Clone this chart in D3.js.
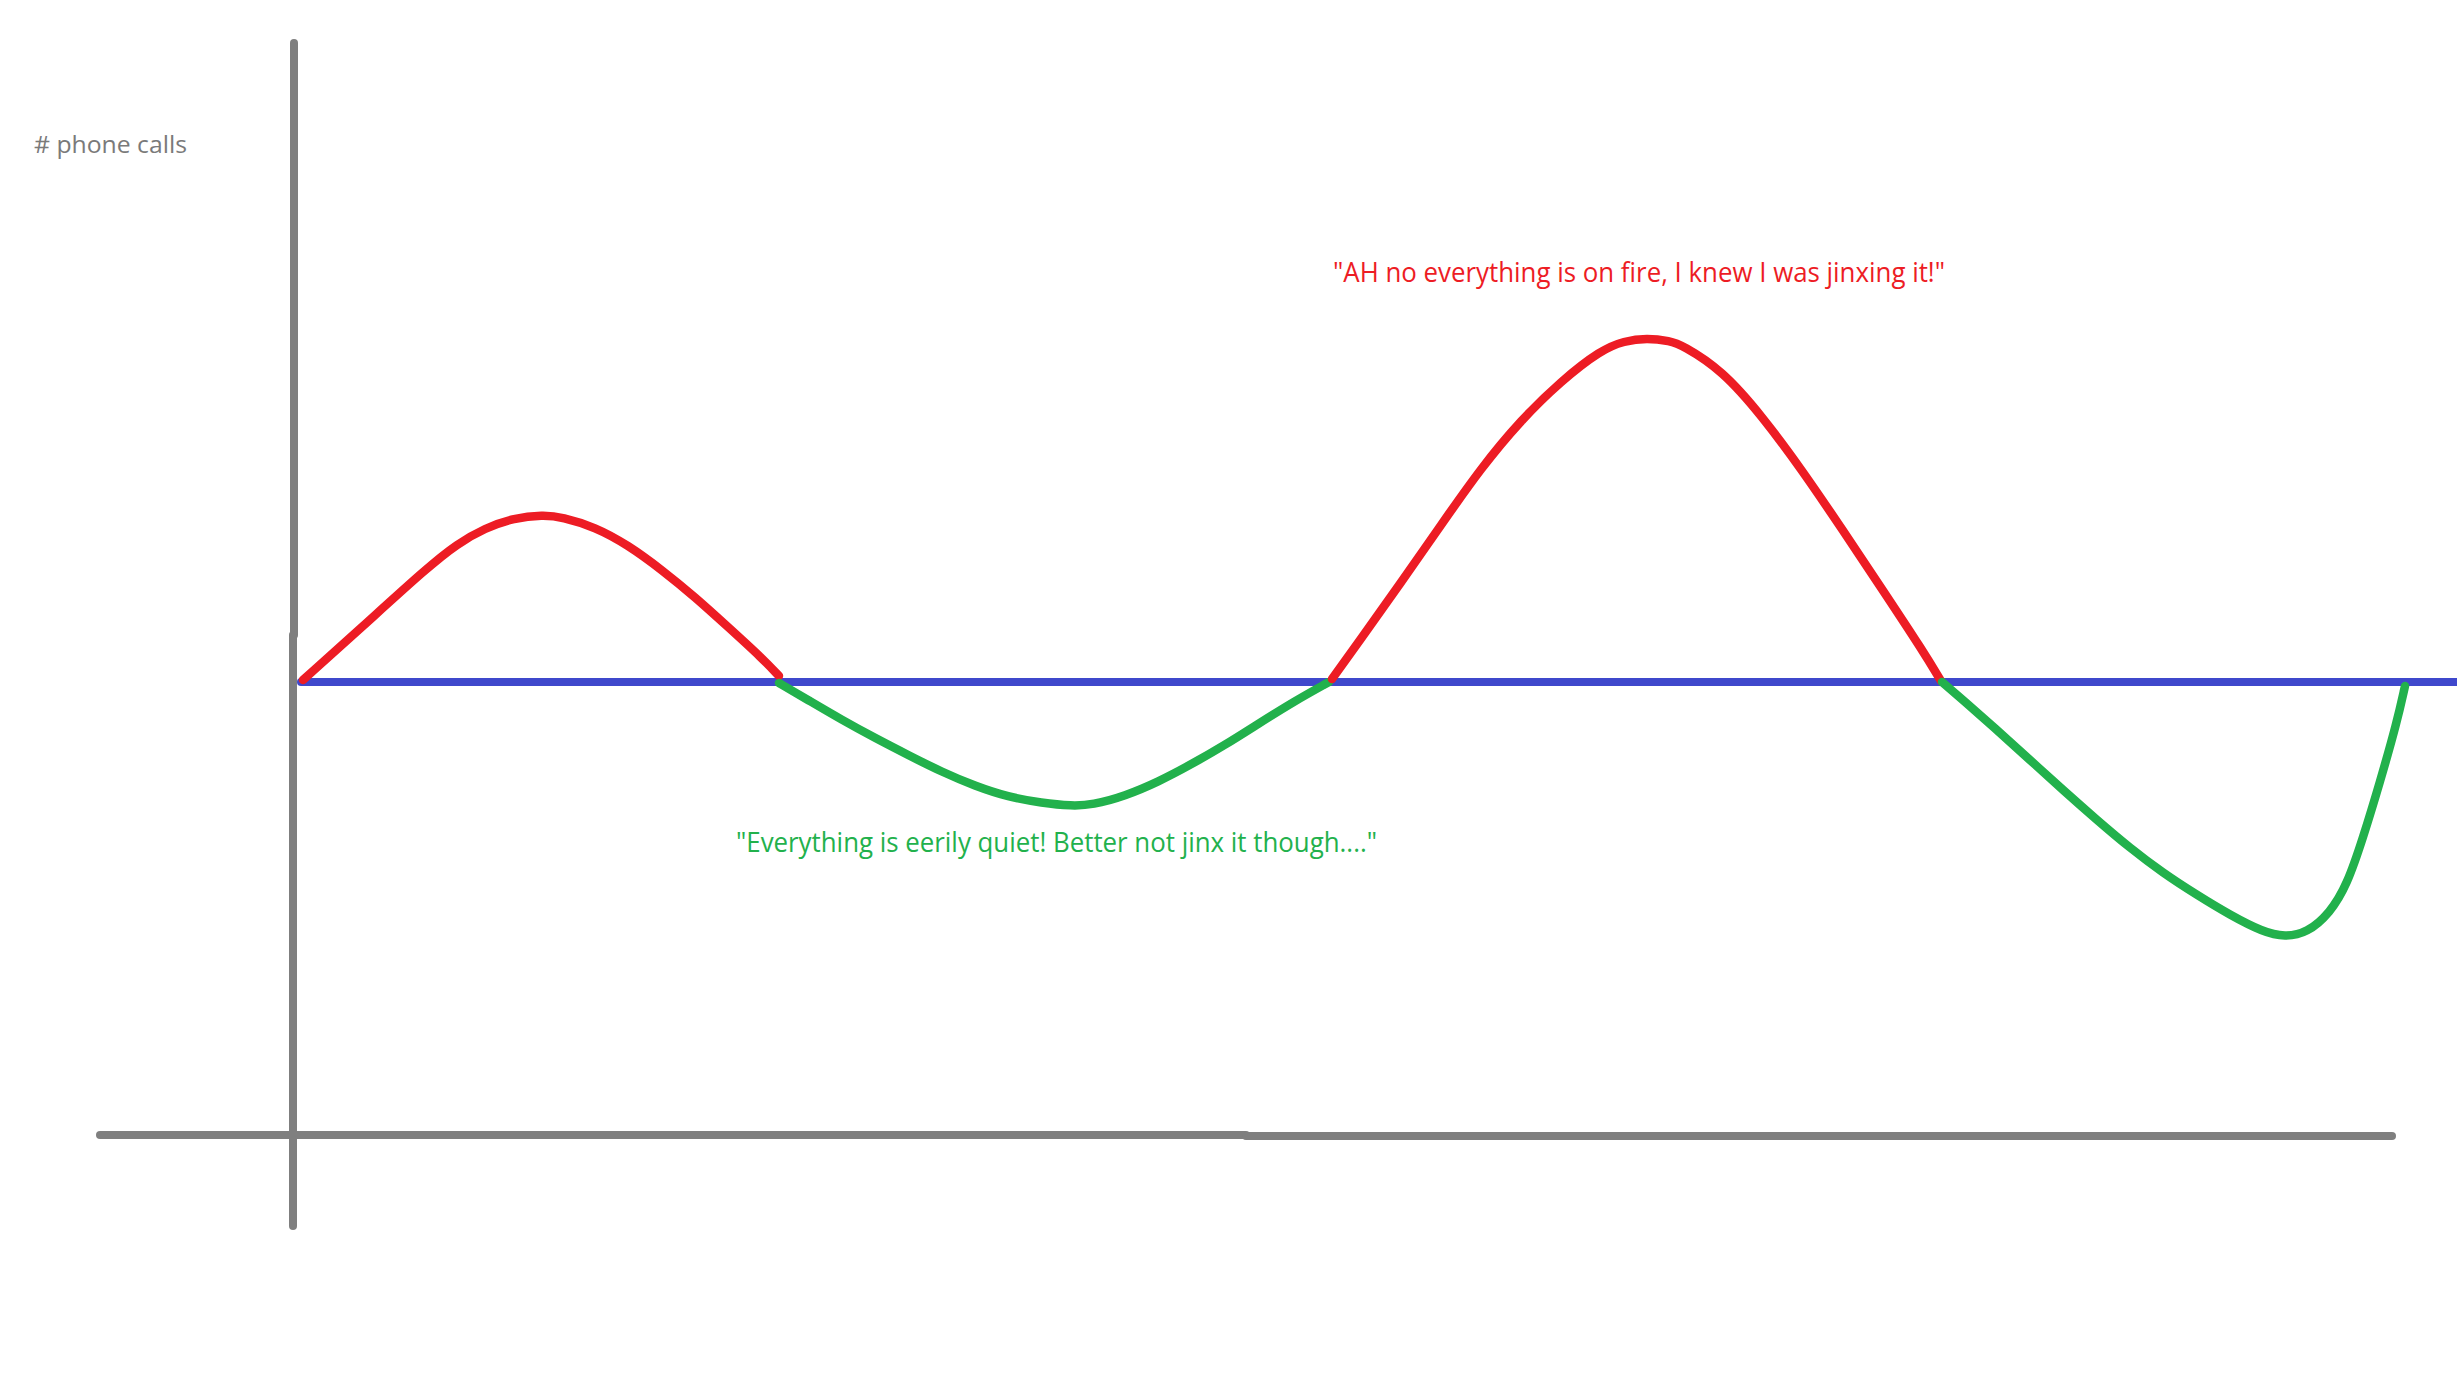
<!DOCTYPE html>
<html>
<head>
<meta charset="utf-8">
<script src="https://cdn.jsdelivr.net/npm/d3@7"></script>
<style>
  html, body { margin: 0; padding: 0; background: #ffffff; }
  svg { display: block; }
</style>
</head>
<body>
<svg id="chart" width="2457" height="1382"></svg>
<script>
// ---------- DATA (time units along x, relative # phone calls along y; 0 = normal level) ----------
const yAxisLabel = "# phone calls";
const annotationBusy  = "\"AH no everything is on fire, I knew I was jinxing it!\"";
const annotationQuiet = "\"Everything is eerily quiet! Better not jinx it though....\"";

// first busy spell (red)
const busy1Time  = [10, 69, 135, 164, 192, 221, 250, 269, 302, 335, 369, 402, 435, 469, 486];
const busy1Calls = [2, 55, 115, 138, 154, 164, 167, 165, 155, 137, 112, 85, 55, 24, 6];

// first quiet spell (green)
const quiet1Time  = [486, 515, 549, 582, 615, 649, 682, 715, 749, 779, 799, 832, 865, 899, 932, 965, 1000, 1036];
const quiet1Calls = [-1, -18, -38, -56, -73, -90, -104, -115, -121, -124, -123, -114, -100, -82, -63, -42, -20, 0];

// second busy spell (red)
const busy2Time  = [1039, 1067, 1107, 1148, 1188, 1228, 1268, 1308, 1331, 1354, 1377, 1389, 1429, 1469, 1509, 1549, 1589, 1630, 1648];
const busy2Calls = [3, 42, 98, 157, 214, 262, 301, 332, 341, 344, 341, 337, 312, 266, 212, 153, 93, 31, 1];

// second quiet spell (green)
const quiet2Time  = [1649, 1670, 1704, 1737, 1770, 1804, 1837, 1870, 1904, 1937, 1970, 1992, 2014, 2037, 2054, 2070, 2087, 2104, 2112];
const quiet2Calls = [0, -18, -48, -78, -108, -138, -166, -191, -213, -233, -250, -255, -251, -231, -203, -156, -100, -40, -4];

// normal level (blue reference line)
const normalTime  = [8, 2200];
const normalCalls = [0, 0];

// ---------- SCALES ----------
const x = d3.scaleLinear().domain([0, 2104]).range([293, 2397]);
const y = d3.scaleLinear().domain([-453, 643]).range([1135, 39]);

const svg = d3.select("#chart");
svg.append("rect").attr("width", 2457).attr("height", 1382).attr("fill", "#ffffff");

const gray = "#7f7f7f", blue = "#3f48cc", red = "#ed1c24", green = "#22b14c";

function seg(x1, y1, x2, y2, color, w) {
  svg.append("line")
    .attr("x1", x1).attr("y1", y1).attr("x2", x2).attr("y2", y2)
    .attr("stroke", color).attr("stroke-width", w).attr("stroke-linecap", "round");
}

// hand-drawn axes (slight 1px jogs like the sketch)
seg(x(1), y(639), x(1), y(47), gray, 8);
seg(x(0), y(47), x(0), y(-544), gray, 8);
seg(x(-193), y(-453), x(953), y(-453), gray, 8);
seg(x(953), y(-454), x(2099), y(-454), gray, 8);

// y-axis label
svg.append("text")
  .attr("x", 34).attr("y", 153)
  .attr("font-family", "'Open Sans', 'Noto Sans', sans-serif")
  .attr("font-size", 23)
  .attr("fill", "#7a7a7a")
  .attr("textLength", 153).attr("lengthAdjust", "spacingAndGlyphs")
  .text(yAxisLabel);

// normal level line
svg.append("path")
  .attr("d", d3.line().x(d => x(d[0])).y(d => y(d[1]))(d3.zip(normalTime, normalCalls)))
  .attr("fill", "none").attr("stroke", blue).attr("stroke-width", 8).attr("stroke-linecap", "round");

// spells
const line = d3.line().x(d => x(d[0])).y(d => y(d[1])).curve(d3.curveBasis);
const spells = [
  [busy1Time, busy1Calls, red],
  [quiet1Time, quiet1Calls, green],
  [busy2Time, busy2Calls, red],
  [quiet2Time, quiet2Calls, green]
];
spells.forEach(([t, c, col]) => {
  svg.append("path")
    .attr("d", line(d3.zip(t, c)))
    .attr("fill", "none").attr("stroke", col).attr("stroke-width", 8.5)
    .attr("stroke-linecap", "round").attr("stroke-linejoin", "round");
});

// annotations
svg.append("text")
  .attr("x", 1333).attr("y", 282)
  .attr("font-family", "'Open Sans', 'Noto Sans', sans-serif")
  .attr("font-size", 27)
  .attr("fill", red)
  .attr("textLength", 612).attr("lengthAdjust", "spacingAndGlyphs")
  .text(annotationBusy);

svg.append("text")
  .attr("x", 736).attr("y", 852)
  .attr("font-family", "'Open Sans', 'Noto Sans', sans-serif")
  .attr("font-size", 27)
  .attr("fill", green)
  .attr("textLength", 641).attr("lengthAdjust", "spacingAndGlyphs")
  .text(annotationQuiet);
</script>
</body>
</html>
